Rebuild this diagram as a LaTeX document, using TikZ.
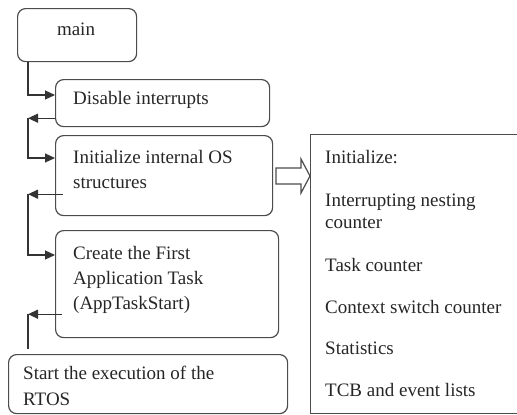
\documentclass[tikz,border=0pt]{standalone}
\usepackage{fontspec}
\setmainfont{Liberation Serif}
\usetikzlibrary{arrows.meta}
\begin{document}
\begin{tikzpicture}[x=1pt,y=-1pt,
  box/.style={draw=black!70, line width=1.2pt, rounded corners=8pt, inner sep=0pt, anchor=north west},
  sqbox/.style={draw=black!70, line width=1.2pt, inner sep=0pt, anchor=north west},
  txt/.style={font=\fontsize{19}{25}\selectfont, align=left, anchor=base west, inner sep=0pt, text=black!85},
  arr/.style={draw=black!80, line width=1.2pt, -{Triangle[length=10pt,width=9pt]}},
  conn/.style={draw=black!80, line width=1.2pt}]
\useasboundingbox (0,0) rectangle (517,415);
% boxes
\node[box, minimum width=119pt, minimum height=53pt] (main) at (17,8) {};
\node[box, minimum width=214pt, minimum height=47pt] (dis) at (55,79) {};
\node[box, minimum width=217pt, minimum height=80pt] (init) at (55,135) {};
\node[box, minimum width=223pt, minimum height=107pt] (create) at (55,230) {};
\node[box, minimum width=279pt, minimum height=59pt] (start) at (8,354) {};
\node[sqbox, minimum width=215pt, minimum height=279pt] (info) at (310,134) {};
% texts (base anchor = baseline of last line)
\node[txt, anchor=base] (tmain) at (76,35) {main};
\node[txt] (tdis) at (73,104) {Disable interrupts};
\node[txt] (tinit) at (73,188) {Initialize internal OS\\structures};
\node[txt] (tcreate) at (73,309) {Create the First\\Application Task\\(AppTaskStart)};
\node[txt, font=\fontsize{19}{26}\selectfont] (tstart) at (23,405) {Start the execution of the\\RTOS};
\node[txt] (r1) at (325,163) {Initialize:};
\node[txt, font=\fontsize{19}{22.5}\selectfont] (r2) at (325,228.5) {Interrupting nesting\\counter};
\node[txt] (r3) at (325,271) {Task counter};
\node[txt] (r4) at (325,313) {Context switch counter};
\node[txt] (r5) at (325,354) {Statistics};
\node[txt] (r6) at (325,396) {TCB and event lists};
% connectors
\draw[arr] ([xshift=11pt]main.south west) |- ([yshift=-16pt]dis.north west);
\draw[arr] ([yshift=9pt]dis.south west) -- ([yshift=9pt,xshift=-27pt]dis.south west) coordinate (j1);
\draw[arr] (j1) |- ([yshift=-23pt]init.north west);
\draw[arr] ([xshift=8pt,yshift=22pt]init.south west) -- ([xshift=-27pt,yshift=22pt]init.south west) coordinate (j2);
\draw[arr] (j2) |- ([yshift=-25pt]create.north west);
\draw[arr] ([xshift=7pt,yshift=24pt]create.south west) -- ([xshift=-27pt,yshift=24pt]create.south west) coordinate (j3);
\path (j3 |- start.north) ++(0,-5) coordinate (j4);
\draw[conn] (j3) -- (j4);
% hollow block arrow
\draw[draw=black!70, line width=1.2pt, fill=white, line join=miter]
  (276,168) -- (301,168) -- (301,159) -- (310,176) -- (301,193) -- (301,184) -- (276,184) -- cycle;
\end{tikzpicture}
\end{document}
